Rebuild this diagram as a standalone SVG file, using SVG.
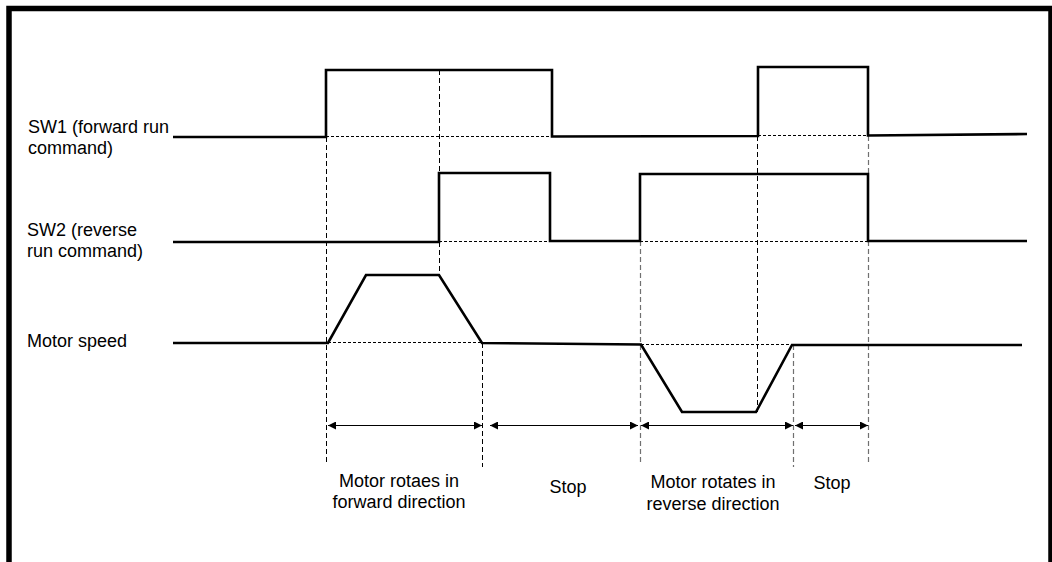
<svg xmlns="http://www.w3.org/2000/svg" width="1052" height="562" viewBox="0 0 1052 562">
<style>
.sig{fill:none;stroke:#000;stroke-width:2.6;stroke-linejoin:miter}
.dot{fill:none;stroke:#000;stroke-width:1;stroke-dasharray:3 2}
.vd{fill:none;stroke:#000;stroke-width:1;stroke-dasharray:5 3}
.vg{fill:none;stroke:#707070;stroke-width:1.2;stroke-dasharray:5 3}
.dim{fill:none;stroke:#000;stroke-width:1;marker-start:url(#ah);marker-end:url(#ah)}
.lbl{font-family:"Liberation Sans",Arial,sans-serif;font-size:18px;fill:#000}
.mid{text-anchor:middle}
</style>
<defs>
<marker id="ah" viewBox="0 0 8 8" refX="8" refY="4" markerWidth="8" markerHeight="8" markerUnits="userSpaceOnUse" orient="auto-start-reverse">
<path d="M0,0 L8,4 L0,8 Z" fill="#000"/>
</marker>
</defs>
<rect width="1052" height="562" fill="#fff"/>
<path d="M9,562 V8.5 H1051 V562" fill="none" stroke="#000" stroke-width="5.5"/>

<g id="labels">
<text class="lbl" x="28" y="133">SW1 (forward run</text>
<text class="lbl" x="28" y="154">command)</text>
<text class="lbl" x="27" y="236">SW2 (reverse</text>
<text class="lbl" x="27" y="257">run command)</text>
<text class="lbl" x="27" y="347">Motor speed</text>
</g>

<g id="guides">
<path class="dot" d="M326,136.5 H552 M758,135.5 H868"/>
<path class="dot" d="M439,241.5 H550 M640,241.5 H868"/>
<path class="dot" d="M328,342.5 H482 M641,344.5 H792"/>
<path class="vd" d="M326.5,137 V465"/>
<path class="vd" d="M439.5,70 V173 M439.5,242 V275"/>
<path class="vd" d="M482.5,343 V467"/>
<path class="vd" d="M757.5,136 V412"/>
<path class="vg" d="M640.5,241 V465"/>
<path class="vg" d="M793.5,345 V467"/>
<path class="vg" d="M868.5,136 V174 M868.5,241 V463"/>
</g>

<g id="sw1">
<path class="sig" d="M173,137 H326 V70 H552 V136.5 L758,136 V67 H868 V135.5 L1027,134"/>
</g>
<g id="sw2">
<path class="sig" d="M173,242 H439 V173 H550 V241 H640 V174 H868 V241 H1027"/>
</g>
<g id="motor">
<path class="sig" d="M173,343 L328,343 L366,275 H439 L482,343 L641,344.5 L682,412 H756 L792,345 H1022"/>
</g>

<g id="connectors">
<path class="dim" d="M328,425.5 H482"/>
<path class="dim" d="M490,425.5 H638"/>
<path class="dim" d="M641,425.5 H793"/>
<path class="dim" d="M795,425.5 H868"/>
</g>

<g id="phase1">
<text class="lbl mid" x="399" y="487">Motor rotaes in</text>
<text class="lbl mid" x="399" y="508">forward direction</text>
</g>
<g id="phase2">
<text class="lbl mid" x="568" y="493">Stop</text>
</g>
<g id="phase3">
<text class="lbl mid" x="713" y="488">Motor rotates in</text>
<text class="lbl mid" x="713" y="510">reverse direction</text>
</g>
<g id="phase4">
<text class="lbl mid" x="832" y="489">Stop</text>
</g>
</svg>
